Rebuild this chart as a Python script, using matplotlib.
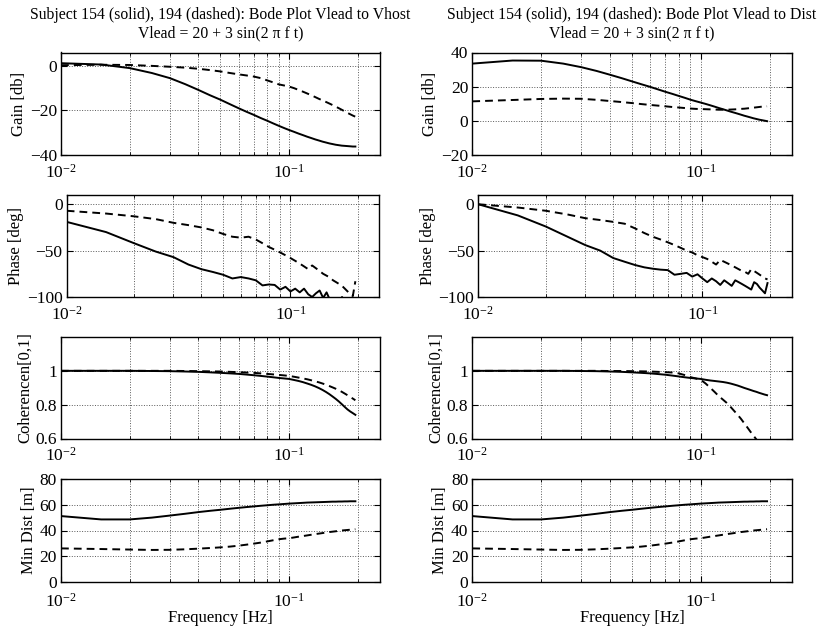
import matplotlib
matplotlib.use("Agg")
import matplotlib.pyplot as plt
from matplotlib.ticker import LogLocator, FixedLocator, LogFormatterSciNotation, NullFormatter

plt.rcParams['font.family'] = ['Liberation Serif', 'DejaVu Serif']
plt.rcParams['mathtext.fontset'] = 'stix'
plt.rcParams['font.size'] = 10.5
plt.rcParams['axes.unicode_minus'] = True

# frequency grid [Hz]
freq = [0.010, 0.015, 0.020, 0.025, 0.030, 0.035, 0.040, 0.045, 0.050, 0.055,
        0.060, 0.065, 0.070, 0.075, 0.080, 0.085, 0.090, 0.095, 0.100, 0.105,
        0.110, 0.115, 0.120, 0.125, 0.130, 0.135, 0.140, 0.145, 0.150, 0.155,
        0.160, 0.165, 0.170, 0.175, 0.180, 0.185, 0.190, 0.195]

# Vlead -> Vhost
gain_vhost_154 = [1.2, 0.6, -1.0, -3.2, -5.5, -8.2, -10.8, -13.2, -15.2, -17.2,
                  -19.0, -20.6, -22.0, -23.4, -24.6, -25.8, -26.9, -27.9, -28.8, -29.6,
                  -30.4, -31.1, -31.8, -32.4, -33.0, -33.5, -34.0, -34.4, -34.8, -35.1,
                  -35.4, -35.6, -35.8, -35.9, -36.0, -36.1, -36.2, -36.2]
gain_vhost_194 = [0.3, 0.5, 0.4, 0.0, -0.4, -0.8, -1.3, -1.9, -2.5, -3.2,
                  -3.8, -4.3, -4.8, -5.5, -6.5, -7.4, -8.3, -8.8, -9.3, -10.0,
                  -10.8, -11.6, -12.4, -13.2, -14.0, -14.8, -15.5, -16.2, -16.9, -17.6,
                  -18.3, -19.0, -19.7, -20.4, -21.1, -21.7, -22.3, -22.8]
phase_vhost_154 = [-19, -30, -42, -51, -57, -65, -70, -73, -76, -80,
                   -78.5, -80, -82, -87.5, -86.5, -87, -92, -89, -94, -91,
                   -95, -91, -97, -100, -96, -93, -101, -95, -103, -106,
                   -104, -108, -100, -105, -110, -112, -115, -110]
phase_vhost_194 = [-7, -10, -13, -16, -20, -22.5, -25, -28, -32, -35,
                   -36, -35, -38, -42, -46, -49, -52, -55, -58, -61,
                   -64, -67, -70, -66, -69, -72, -75, -77, -79, -82,
                   -84, -86, -88, -91, -94, -97, -99, -83]
coh_vhost_154 = [1.0, 1.0, 1.0, 0.999, 0.998, 0.996, 0.994, 0.991, 0.988, 0.985,
                 0.982, 0.978, 0.974, 0.970, 0.966, 0.962, 0.958, 0.955, 0.952, 0.946,
                 0.940, 0.933, 0.925, 0.917, 0.908, 0.898, 0.887, 0.875, 0.862, 0.848,
                 0.834, 0.819, 0.803, 0.787, 0.772, 0.760, 0.750, 0.740]
coh_vhost_194 = [1.0, 1.0, 1.0, 1.0, 1.0, 0.999, 0.998, 0.997, 0.996, 0.994,
                 0.992, 0.990, 0.988, 0.985, 0.982, 0.979, 0.976, 0.973, 0.970, 0.965,
                 0.960, 0.955, 0.950, 0.944, 0.938, 0.932, 0.925, 0.918, 0.910, 0.902,
                 0.894, 0.885, 0.876, 0.866, 0.856, 0.846, 0.836, 0.826]

# Vlead -> Dist
gain_dist_154 = [33.5, 35.3, 35.2, 33.5, 31.4, 29.2, 27.0, 25.0, 23.1, 21.4,
                 19.9, 18.4, 17.0, 15.8, 14.6, 13.5, 12.4, 11.5, 10.7, 9.9,
                 9.1, 8.3, 7.5, 6.8, 6.1, 5.4, 4.8, 4.2, 3.6, 3.0,
                 2.5, 2.0, 1.5, 1.1, 0.7, 0.4, 0.1, -0.2]
gain_dist_194 = [11.4, 12.2, 12.8, 13.0, 12.9, 12.3, 11.6, 11.0, 10.4, 9.8,
                 9.3, 8.9, 8.5, 8.1, 7.8, 7.5, 7.2, 7.0, 6.9, 6.8,
                 6.7, 6.6, 6.5, 6.5, 6.5, 6.6, 6.7, 6.8, 7.0, 7.1,
                 7.3, 7.5, 7.7, 7.9, 8.1, 8.3, 8.4, 8.5]
phase_dist_154 = [0, -12, -24, -35, -44, -50, -58, -62, -65.5, -68,
                  -69.5, -70.5, -71, -76, -75, -74, -78, -75.5, -80, -84,
                  -80, -83, -87, -82, -85, -88, -82, -84, -86, -88,
                  -90, -92, -84, -86, -90, -93, -96, -85]
phase_dist_194 = [0, -3.5, -7, -11, -15, -17, -19, -21, -26, -31,
                  -35, -38, -41, -44, -47, -50, -52, -55, -57, -59,
                  -62, -65, -60, -62, -64, -66, -68, -70, -72, -73,
                  -75, -70, -72, -74, -76, -78, -80, -81]
coh_dist_154 = [1.0, 1.0, 1.0, 1.0, 0.999, 0.998, 0.996, 0.994, 0.991, 0.988,
                0.985, 0.981, 0.977, 0.972, 0.967, 0.962, 0.958, 0.955, 0.952, 0.947,
                0.943, 0.940, 0.937, 0.934, 0.930, 0.925, 0.919, 0.913, 0.906, 0.899,
                0.893, 0.887, 0.881, 0.876, 0.870, 0.865, 0.860, 0.856]
coh_dist_194 = [1.0, 1.0, 1.0, 1.0, 1.0, 1.0, 0.999, 0.999, 0.998, 0.997,
                0.996, 0.994, 0.992, 0.990, 0.985, 0.975, 0.963, 0.955, 0.947, 0.925,
                0.900, 0.875, 0.850, 0.830, 0.810, 0.787, 0.763, 0.740, 0.716, 0.690,
                0.665, 0.640, 0.617, 0.595, 0.575, 0.555, 0.535, 0.515]

# minimum distance (same for both columns)
mindist_154 = [51.2, 48.6, 48.6, 50.0, 51.6, 53.0, 54.3, 55.3, 56.1, 56.9,
               57.6, 58.2, 58.7, 59.2, 59.6, 60.0, 60.3, 60.6, 60.9, 61.1,
               61.3, 61.5, 61.7, 61.8, 61.9, 62.0, 62.1, 62.2, 62.3, 62.4,
               62.4, 62.5, 62.5, 62.6, 62.6, 62.7, 62.7, 62.7]
mindist_194 = [26.1, 25.6, 25.2, 24.9, 25.0, 25.4, 25.9, 26.4, 26.9, 27.5,
               28.2, 29.0, 29.8, 30.6, 31.5, 32.4, 33.2, 33.7, 34.0, 34.6,
               35.2, 35.7, 36.2, 36.7, 37.2, 37.6, 38.0, 38.4, 38.8, 39.1,
               39.4, 39.7, 40.0, 40.2, 40.4, 40.6, 40.8, 41.0]

title_left = "Subject 154 (solid), 194 (dashed): Bode Plot Vlead to Vhost\nVlead = 20 + 3 sin(2 π f t)"
title_right = "Subject 154 (solid), 194 (dashed): Bode Plot Vlead to Dist\nVlead = 20 + 3 sin(2 π f t)"

W, H = 828, 626


def box(l, r, t, b):
    return [l / W, 1 - b / H, (r - l) / W, (b - t) / H]


def style(ax, ylim, yticks, ylabel, xlabel=None):
    ax.set_xscale('log')
    ax.set_xlim(0.01, 0.25)
    ax.set_ylim(*ylim)
    ax.yaxis.set_major_locator(FixedLocator(yticks))
    ax.xaxis.set_major_locator(LogLocator(base=10, numticks=10))
    ax.xaxis.set_major_formatter(LogFormatterSciNotation())
    ax.xaxis.set_minor_locator(LogLocator(base=10, subs=range(2, 10), numticks=10))
    ax.xaxis.set_minor_formatter(NullFormatter())
    ax.grid(True, which='both', axis='x', linestyle=':', color='0.35', linewidth=0.7)
    ax.grid(True, which='major', axis='y', linestyle=':', color='0.35', linewidth=0.7)
    ax.tick_params(which='both', direction='in', top=True, right=True, labelsize=12.5)
    ax.tick_params(axis='y', pad=3)
    ax.tick_params(axis='x', pad=8 if xlabel else 6)
    ax.tick_params(which='major', length=4)
    ax.tick_params(which='minor', length=2)
    for s in ax.spines.values():
        s.set_linewidth(1.0)
    ax.set_ylabel(ylabel, fontsize=12, labelpad=2)
    if xlabel:
        ax.set_xlabel(xlabel, fontsize=12, labelpad=-1)


def curves(ax, solid, dashed):
    ax.plot(freq, solid, color='k', linewidth=1.4)
    ax.plot(freq, dashed, color='k', linewidth=1.4, linestyle=(0, (4, 2.6)))


fig = plt.figure(figsize=(8.28, 6.26), dpi=100)

cols = [
    (61, 380, 66.7, 379.5, title_left, gain_vhost_154, gain_vhost_194, (-40, 6), [-40, -20, 0],
     phase_vhost_154, phase_vhost_194, coh_vhost_154, coh_vhost_194),
    (472.3, 791.7, 478.3, 791.7, title_right, gain_dist_154, gain_dist_194, (-20, 40), [-20, 0, 20, 40],
     phase_dist_154, phase_dist_194, coh_dist_154, coh_dist_194),
]

for (l, r, pl, pr, title, g1, g2, glim, gticks, p1, p2, c1, c2) in cols:
    ax = fig.add_axes(box(l, r, 52.5, 155))
    curves(ax, g1, g2)
    style(ax, glim, gticks, 'Gain [db]')
    ax.set_title(title, fontsize=11.3, linespacing=1.2, pad=11)

    ax = fig.add_axes(box(pl, pr, 195, 297))
    curves(ax, p1, p2)
    style(ax, (-100, 10), [-100, -50, 0], 'Phase [deg]')

    ax = fig.add_axes(box(l, r, 337, 438.5))
    curves(ax, c1, c2)
    style(ax, (0.6, 1.2), [0.6, 0.8, 1.0], 'Coherencen[0,1]')
    ax.set_yticklabels(['0.6', '0.8', '1'])

    ax = fig.add_axes(box(l, r, 479, 582))
    curves(ax, mindist_154, mindist_194)
    style(ax, (0, 80), [0, 20, 40, 60, 80], 'Min Dist [m]', xlabel='Frequency [Hz]')

fig.savefig('out.png', dpi=100)
